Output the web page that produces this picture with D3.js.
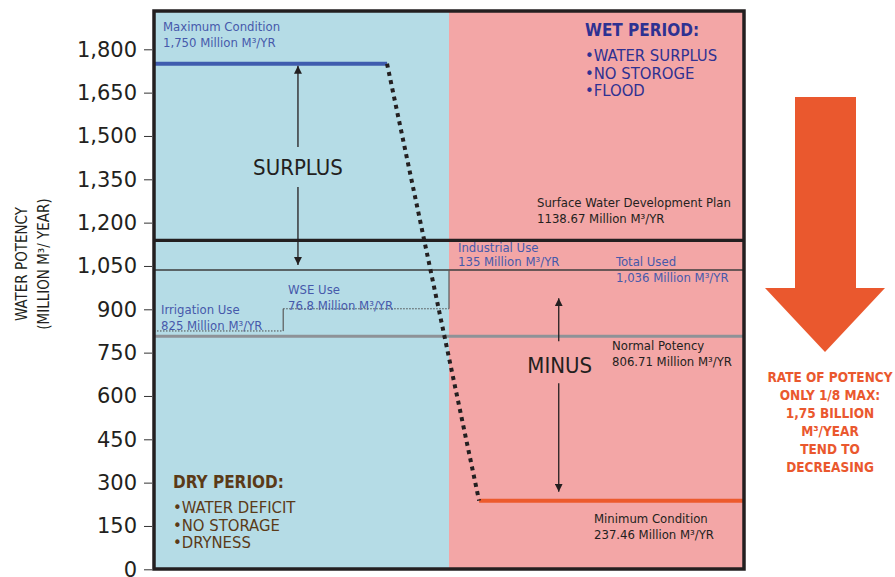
<!DOCTYPE html>
<html>
<head>
<meta charset="utf-8">
<script src="https://cdn.jsdelivr.net/npm/d3@7"></script>
<style>
  html, body { margin: 0; padding: 0; background: #ffffff; }
  svg { display: block; }
</style>
</head>
<body>
<div id="chart"></div>
<script>
// ---- values ----
const yTicks = [0, 150, 300, 450, 600, 750, 900, 1050, 1200, 1350, 1500, 1650, 1800];

// reference levels (million m3 / year)
const levelNames  = ["Maximum Condition", "Surface Water Development Plan", "Total Used", "Normal Potency", "Minimum Condition"];
const levelValues = [1750, 1138.67, 1036, 806.71, 237.46];

// water uses, stacked one on top of the other
const useNames  = ["Irrigation Use", "WSE Use", "Industrial Use"];
const useValues = [825, 76.8, 135];

const wetTitle = "WET PERIOD:";
const wetNotes = ["WATER SURPLUS", "NO STOROGE", "FLOOD"];
const dryTitle = "DRY PERIOD:";
const dryNotes = ["WATER DEFICIT", "NO STORAGE", "DRYNESS"];
const rateNotes = ["RATE OF POTENCY", "ONLY 1/8 MAX:", "1,75 BILLION", "M\u00B3/YEAR", "TEND TO", "DECREASING"];
const axisTitle = ["WATER POTENCY", "(MILLION M\u00B3/ YEAR)"];

// ---- layout ----
const W = 895, H = 577;
const plot = { left: 154, right: 744, top: 11, bottom: 569 };
const FONT = "'DejaVu Sans Condensed', 'DejaVu Sans', sans-serif";
const C = {
  dry: "#b5dce6", wet: "#f3a6a6", frame: "#231f20", ink: "#231f20",
  blueText: "#4659ab", maxLine: "#3f5cae", minLine: "#ec5a2d",
  normal: "#8e9297", total: "#3d3d3d", wetText: "#2e3192", dryText: "#5b3a17",
  arrow: "#ea582e"
};

const svg = d3.select("#chart").append("svg")
  .attr("width", W).attr("height", H)
  .style("font-family", FONT);

// phase across the year: 0 = start of dry period, 0.5 = start of wet period, 1 = end
const x = d3.scaleLinear().domain([0, 1]).range([plot.left, plot.right]);
const y = d3.scaleLinear().domain([0, 1800]).range([569.3, 49.3]);

const phase = { split: 0.5, maxEnd: 0.395, minStart: 0.551, wseStep: 0.219, indStep: 0.5, surplusArrow: 0.244, minusArrow: 0.686 };

const fmtVal = v => Number.isInteger(v) ? d3.format(",")(v) : String(v);
const unit = " Million M\u00B3/YR";
const lv = name => levelValues[levelNames.indexOf(name)];

// ---- backgrounds ----
svg.append("rect").attr("x", x(0)).attr("y", plot.top)
  .attr("width", x(phase.split) - x(0)).attr("height", plot.bottom - plot.top).attr("fill", C.dry);
svg.append("rect").attr("x", x(phase.split)).attr("y", plot.top)
  .attr("width", x(1) - x(phase.split)).attr("height", plot.bottom - plot.top).attr("fill", C.wet);

// ---- y axis ----
const axis = svg.append("g")
  .attr("transform", `translate(${plot.left - 2},0)`)
  .call(d3.axisLeft(y).tickValues(yTicks).tickFormat(d3.format(",")).tickSize(8).tickPadding(7));
axis.select(".domain").remove();
axis.selectAll(".tick line").attr("stroke", "#333").attr("stroke-width", 1);
axis.selectAll(".tick text")
  .attr("fill", C.ink).style("font-family", "'DejaVu Sans', sans-serif").style("font-size", "21px");

const titleG = svg.append("g").attr("transform", "translate(0,264)");
axisTitle.forEach((t, i) => {
  titleG.append("text")
    .attr("transform", `translate(${[27, 49][i]},0) rotate(-90)`)
    .attr("text-anchor", "middle").attr("fill", C.ink)
    .style("font-size", "15px").text(t);
});

// ---- level lines ----
const yMax = y(lv("Maximum Condition"));
const ySurf = y(lv("Surface Water Development Plan"));
const yTot = y(lv("Total Used"));
const yNorm = y(lv("Normal Potency"));
const yMin = y(lv("Minimum Condition"));

// cumulative use steps
const cum = d3.cumsum(useValues);
const yIrr = y(cum[0]), yWse = y(cum[1]);

const lines = svg.append("g");
lines.append("line").attr("x1", x(0)).attr("x2", x(1)).attr("y1", yTot).attr("y2", yTot)
  .attr("stroke", C.total).attr("stroke-width", 1.3);
lines.append("line").attr("x1", x(0)).attr("x2", x(1)).attr("y1", yNorm).attr("y2", yNorm)
  .attr("stroke", C.normal).attr("stroke-width", 3);
lines.append("line").attr("x1", x(0)).attr("x2", x(1)).attr("y1", ySurf).attr("y2", ySurf)
  .attr("stroke", C.frame).attr("stroke-width", 3.2);

// irrigation -> WSE -> industrial steps
lines.append("line").attr("x1", x(0)).attr("x2", x(phase.wseStep)).attr("y1", yIrr).attr("y2", yIrr)
  .attr("stroke", "#4a4a4a").attr("stroke-width", 1).attr("stroke-dasharray", "1.5,1.5");
lines.append("line").attr("x1", x(phase.wseStep)).attr("x2", x(phase.wseStep)).attr("y1", yIrr).attr("y2", yWse)
  .attr("stroke", "#5a5a5a").attr("stroke-width", 1.2);
lines.append("line").attr("x1", x(phase.wseStep)).attr("x2", x(phase.indStep)).attr("y1", yWse).attr("y2", yWse)
  .attr("stroke", "#4a4a4a").attr("stroke-width", 1).attr("stroke-dasharray", "1.5,1.5");
lines.append("line").attr("x1", x(phase.indStep)).attr("x2", x(phase.indStep)).attr("y1", yWse).attr("y2", yTot)
  .attr("stroke", "#5a5a5a").attr("stroke-width", 1.2);

// maximum and minimum condition with the falling dotted link
lines.append("line").attr("x1", x(0)).attr("x2", x(phase.maxEnd)).attr("y1", yMax).attr("y2", yMax)
  .attr("stroke", C.maxLine).attr("stroke-width", 4);
lines.append("line").attr("x1", x(phase.minStart)).attr("x2", x(1)).attr("y1", yMin).attr("y2", yMin)
  .attr("stroke", C.minLine).attr("stroke-width", 4);
lines.append("line").attr("x1", x(phase.maxEnd)).attr("y1", yMax).attr("x2", x(phase.minStart)).attr("y2", yMin)
  .attr("stroke", C.frame).attr("stroke-width", 4).attr("stroke-dasharray", "4,4.4");

// ---- arrows ----
const defs = svg.append("defs");
defs.append("marker").attr("id", "head").attr("viewBox", "0 0 10 10")
  .attr("refX", 10).attr("refY", 5).attr("markerWidth", 8).attr("markerHeight", 8)
  .attr("markerUnits", "userSpaceOnUse").attr("orient", "auto")
  .append("path").attr("d", "M0,0 L10,5 L0,10 Z").attr("fill", C.frame);

function arrow(xp, yFrom, yTo) {
  svg.append("line").attr("x1", xp).attr("x2", xp).attr("y1", yFrom).attr("y2", yTo)
    .attr("stroke", C.frame).attr("stroke-width", 1.3).attr("marker-end", "url(#head)");
}
const xs = x(phase.surplusArrow);
const surplusMid = (yMax + yTot) / 2;
arrow(xs, surplusMid - 20, yMax + 2);
arrow(xs, surplusMid + 20, yTot - 5);
svg.append("text").attr("x", xs).attr("y", surplusMid + 8).attr("text-anchor", "middle")
  .attr("fill", C.ink).style("font-size", "22px").text("SURPLUS");

const xm = x(phase.minusArrow);
arrow(xm, yNorm + 5, yNorm - 38);
arrow(xm, yNorm + 47, yMin - 9);
svg.append("text").attr("x", xm + 1).attr("y", yNorm + 37).attr("text-anchor", "middle")
  .attr("fill", C.ink).style("font-size", "22px").text("MINUS");

// ---- line labels ----
function label(xp, yp, lines2, color, gap = 16) {
  const t = svg.append("text").attr("fill", color).style("font-size", "13px");
  lines2.forEach((s, i) => t.append("tspan").attr("x", xp).attr("y", yp + i * gap).text(s));
}
label(163, yMax - 33, ["Maximum Condition", fmtVal(lv("Maximum Condition")) + unit], C.blueText);
label(537, ySurf - 33, ["Surface Water Development Plan", fmtVal(lv("Surface Water Development Plan")) + unit], C.ink);
label(458, yTot - 18, ["Industrial Use", fmtVal(useValues[2]) + unit], C.blueText, 14);
label(616, yTot - 4, ["Total Used", fmtVal(lv("Total Used")) + unit], C.blueText);
label(288, yWse - 15, ["WSE Use", fmtVal(useValues[1]) + unit], C.blueText);
label(161, yIrr - 17, ["Irrigation Use", fmtVal(useValues[0]) + unit], C.blueText);
label(612, yNorm + 14, ["Normal Potency", fmtVal(lv("Normal Potency")) + unit], C.ink);
label(594, yMin + 22, ["Minimum Condition", fmtVal(lv("Minimum Condition")) + unit], C.ink);

// ---- period notes ----
function notes(xp, yp, title, items, color) {
  svg.append("text").attr("x", xp).attr("y", yp).attr("fill", color)
    .style("font-size", "17px").style("font-weight", "bold").text(title);
  items.forEach((s, i) => {
    svg.append("text").attr("x", xp).attr("y", yp + 25 + i * 17.5).attr("fill", color)
      .style("font-size", "16.5px").text("\u2022" + s);
  });
}
notes(585, 36, wetTitle, wetNotes, C.wetText);
notes(173, 488, dryTitle, dryNotes, C.dryText);

// ---- frame ----
svg.append("rect").attr("x", plot.left).attr("y", plot.top)
  .attr("width", plot.right - plot.left).attr("height", plot.bottom - plot.top)
  .attr("fill", "none").attr("stroke", C.frame).attr("stroke-width", 3.5);

// ---- decreasing-rate arrow ----
const ax = 825;
svg.append("path")
  .attr("d", `M${ax - 30},97 L${ax + 31},97 L${ax + 31},288 L${ax + 60},288 L${ax},352 L${ax - 60},288 L${ax - 30},288 Z`)
  .attr("fill", C.arrow);
const rt = svg.append("text").attr("fill", C.arrow).attr("text-anchor", "middle")
  .style("font-size", "13.5px").style("font-weight", "bold");
rateNotes.forEach((s, i) => rt.append("tspan").attr("x", 830).attr("y", 382 + i * 18).text(s));
</script>
</body>
</html>
